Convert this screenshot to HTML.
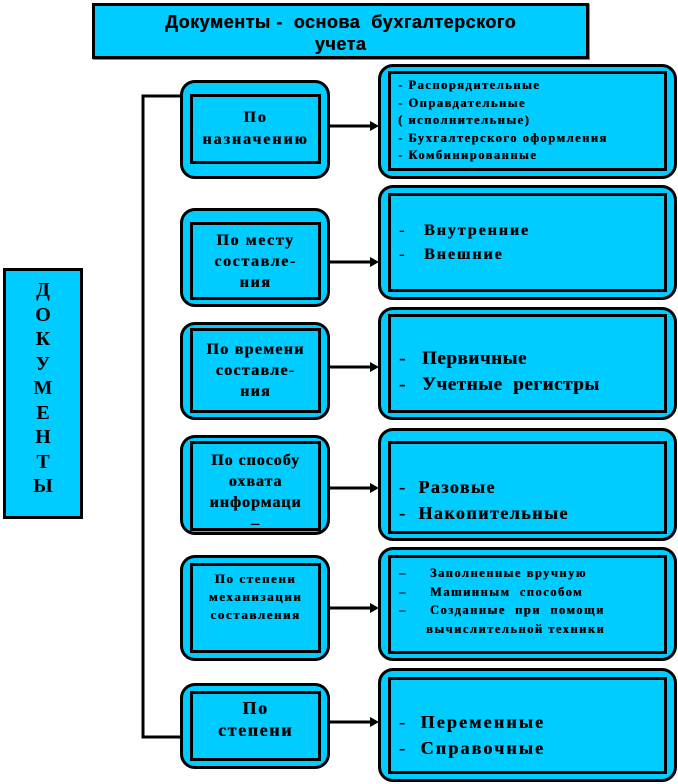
<!DOCTYPE html>
<html><head><meta charset="utf-8"><style>
body{margin:0;width:678px;height:784px;background:#fff;position:relative;overflow:hidden;font-family:"Liberation Serif","DejaVu Serif",serif;font-weight:bold;color:#000;letter-spacing:0.1em}
.o{position:absolute;background:#00CCFF;border:3px solid #000;border-radius:15px;box-sizing:border-box}
.i{position:absolute;background:#00CCFF;border:3px solid #000;box-sizing:border-box;display:flex;flex-direction:column;justify-content:center;white-space:nowrap;text-shadow:0.4px 0 0 #000}
.c{text-align:center;align-items:center}
</style></head><body>
<div style="position:absolute;left:92px;top:3px;width:497px;height:56px;background:#00CCFF;border:3px solid #000;box-sizing:border-box;box-shadow:1px 1px 0 #888;font-family:'Liberation Sans',sans-serif;font-size:18px;text-align:center;line-height:22px;padding-top:5px;letter-spacing:0.5px;text-shadow:0.4px 0 0 #000">Документы -&nbsp; основа&nbsp; бухгалтерского<br>учета</div>

<div style="position:absolute;left:3px;top:268px;width:80px;height:251px;background:#00CCFF;border:3px solid #000;box-sizing:border-box;text-align:center;font-size:20px;line-height:24.5px;padding-top:7px;letter-spacing:0">Д<br>О<br>К<br>У<br>М<br>Е<br>Н<br>Т<br>Ы</div>

<svg width="678" height="784" style="position:absolute;left:0;top:0">
<g stroke="#000" stroke-width="3" fill="none">
<path d="M181 96 H143 V737 H181"/>
<line x1="330" y1="126" x2="372" y2="126"/>
<line x1="330" y1="262" x2="372" y2="262"/>
<line x1="330" y1="367" x2="372" y2="367"/>
<line x1="330" y1="488" x2="372" y2="488"/>
<line x1="330" y1="608" x2="372" y2="608"/>
<line x1="330" y1="722" x2="372" y2="722"/>
</g>
<g fill="#000">
<path d="M379 126 l-9 -5 v10z"/><path d="M379 262 l-9 -5 v10z"/><path d="M379 367 l-9 -5 v10z"/>
<path d="M379 488 l-9 -5 v10z"/><path d="M379 608 l-9 -5 v10z"/><path d="M379 722 l-9 -5 v10z"/>
</g>
</svg>

<div class="o" style="left:180px;top:80px;width:150px;height:99px"></div>
<div class="i c" style="left:190px;top:94px;width:131px;height:70px;font-size:16px;line-height:22px;letter-spacing:0.12em">По<br>назначению</div>

<div class="o" style="left:180px;top:208px;width:150px;height:99px"></div>
<div class="i c" style="left:190px;top:222px;width:131px;height:78px;font-size:16px;line-height:21px;letter-spacing:0.1em">По месту<br>составле-<br>ния</div>

<div class="o" style="left:180px;top:322px;width:150px;height:98px"></div>
<div class="i c" style="left:190px;top:328px;width:131px;height:85px;font-size:16px;line-height:21px;letter-spacing:0.08em">По времени<br>составле-<br>ния</div>

<div class="o" style="left:180px;top:435px;width:150px;height:100px"></div>
<div class="i c" style="left:190px;top:441px;width:131px;height:90px;font-size:16px;line-height:21px;justify-content:flex-start;padding-top:6px;letter-spacing:0.06em">По способу<br>охвата<br>информаци<br>–</div>

<div class="o" style="left:180px;top:555px;width:150px;height:106px"></div>
<div class="i c" style="left:190px;top:563px;width:131px;height:90px;font-size:13px;line-height:18px;justify-content:flex-start;padding-top:4px;letter-spacing:0.12em">По степени<br>механизации<br>составления</div>

<div class="o" style="left:180px;top:683px;width:150px;height:86px"></div>
<div class="i c" style="left:190px;top:691px;width:131px;height:70px;font-size:18px;line-height:22px;justify-content:flex-start;padding-top:3px">По<br>степени</div>

<div class="o" style="left:378px;top:64px;width:299px;height:115px"></div>
<div class="i" style="left:388px;top:71px;width:279px;height:100px;font-size:12.5px;line-height:17.5px;padding-left:7px;letter-spacing:0.12em">- Распорядительные<br>- Оправдательные<br>( исполнительные)<br>- Бухгалтерского оформления<br>- Комбинированные</div>

<div class="o" style="left:378px;top:185px;width:299px;height:115px"></div>
<div class="i" style="left:388px;top:193px;width:279px;height:99px;font-size:16px;line-height:24px;padding-left:8px;justify-content:flex-start;padding-top:23px;letter-spacing:0.12em">
<div>-&nbsp;&nbsp; Внутренние</div><div>-&nbsp;&nbsp; Внешние</div></div>

<div class="o" style="left:378px;top:307px;width:299px;height:113px"></div>
<div class="i" style="left:388px;top:314px;width:279px;height:99px;font-size:19px;line-height:26px;padding-left:8px;justify-content:flex-start;padding-top:29px;letter-spacing:0.03em">
<div>-&nbsp;&nbsp; Первичные</div><div>-&nbsp;&nbsp; Учетные&nbsp; регистры</div></div>

<div class="o" style="left:378px;top:428px;width:299px;height:113px"></div>
<div class="i" style="left:388px;top:441px;width:279px;height:93px;font-size:18px;line-height:26px;padding-left:8px;justify-content:flex-start;padding-top:30px;letter-spacing:0.08em">
<div>-&nbsp; Разовые</div><div>-&nbsp; Накопительные</div></div>

<div class="o" style="left:378px;top:547px;width:299px;height:114px"></div>
<div class="i" style="left:388px;top:555px;width:279px;height:99px;font-size:12.5px;line-height:18.5px;padding-left:8px;justify-content:flex-start;padding-top:6px;letter-spacing:0.12em">
<div>–&nbsp;&nbsp;&nbsp;&nbsp; Заполненные вручную</div><div>–&nbsp;&nbsp;&nbsp;&nbsp; Машинным&nbsp; способом</div><div>–&nbsp;&nbsp;&nbsp;&nbsp; Созданные&nbsp; при&nbsp; помощи</div><div style="padding-left:27px">вычислительной техники</div></div>

<div class="o" style="left:378px;top:668px;width:299px;height:114px"></div>
<div class="i" style="left:388px;top:677px;width:279px;height:97px;font-size:18px;line-height:26px;padding-left:8px;justify-content:flex-start;padding-top:29px;letter-spacing:0.12em">
<div>-&nbsp; Переменные</div><div>-&nbsp; Справочные</div></div>
</body></html>
